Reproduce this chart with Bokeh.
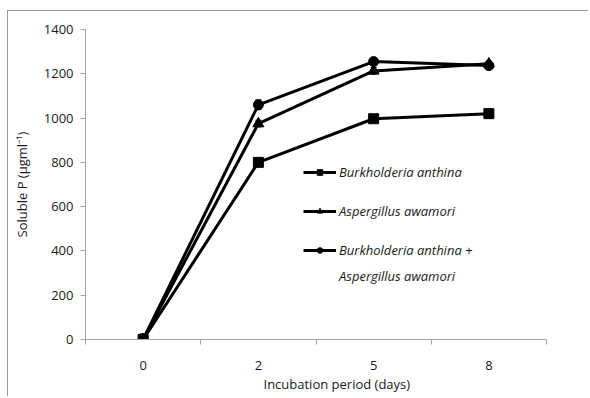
from bokeh.plotting import figure
from bokeh.models import (Range1d, FixedTicker, Legend, LegendItem, Whisker,
                          ColumnDataSource, Title)
from bokeh.embed import file_html
from bokeh.resources import INLINE

days = ["0", "2", "5", "8"]
burk = [0, 800, 997, 1020]
burk_err = [25, 15, 12, 15]
asp = [0, 975, 1213, 1245]
asp_err = [20, 15, 15, 12]
combo = [0, 1060, 1255, 1237]
combo_err = [25, 22, 12, 12]
y_ticks = [0, 200, 400, 600, 800, 1000, 1200, 1400]
names = ["Burkholderia anthina", "Aspergillus awamori",
         "Burkholderia anthina +", "Aspergillus awamori"]

xpos = [i + 0.5 for i in range(len(days))]

FONT = "Open Sans"
AXIS_GRAY = "#a6a6a6"
TXT = "#1a1a1a"

p = figure(width=581, height=386, output_backend="svg", toolbar_location=None,
           x_range=Range1d(0, len(days)), y_range=Range1d(0, 1400),
           min_border_left=77, min_border_right=43, min_border_top=18,
           min_border_bottom=58)
p.styles = {"border-left": "1px solid #9a9a9a", "border-top": "1px solid #9a9a9a",
            "margin-left": "7px", "margin-top": "10px"}
p.outline_line_color = None
p.grid.visible = False

# x axis: labels at category centres, tick marks at category boundaries
p.xaxis.ticker = FixedTicker(ticks=xpos, minor_ticks=list(range(len(days) + 1)))
p.xaxis.major_label_overrides = {x: d for x, d in zip(xpos, days)}
p.xaxis.major_tick_out = 0
p.xaxis.major_tick_in = 0
p.xaxis.minor_tick_out = 5
p.xaxis.minor_tick_in = 0
p.xaxis.major_label_standoff = 16

p.yaxis.ticker = FixedTicker(ticks=y_ticks, minor_ticks=[])
p.yaxis.major_tick_out = 5
p.yaxis.major_tick_in = 0
p.yaxis.major_label_standoff = 7
p.yaxis.axis_label = "Soluble P (µgml⁻¹)"
p.yaxis.axis_label_standoff = 10

for ax in (p.xaxis, p.yaxis):
    ax.axis_line_color = AXIS_GRAY
    ax.major_tick_line_color = AXIS_GRAY
    ax.minor_tick_line_color = AXIS_GRAY
    ax.major_label_text_font = FONT
    ax.major_label_text_font_size = "13px"
    ax.major_label_text_color = TXT
    ax.axis_label_text_font = FONT
    ax.axis_label_text_font_size = "13px"
    ax.axis_label_text_font_style = "normal"
    ax.axis_label_text_color = TXT

xtitle = Title(text="Incubation period (days)", align="left", offset=178,
               standoff=0, text_font=FONT, text_font_size="13px",
               text_font_style="normal", text_color=TXT)
p.add_layout(xtitle, "below")

series = [
    (burk, burk_err, "square", 10),
    (asp, asp_err, "triangle", 11),
    (combo, combo_err, "circle", 10),
]

items = []
for (vals, errs, marker, size), name in zip(series, names):
    src = ColumnDataSource(dict(x=xpos, y=vals,
                                lo=[v - e for v, e in zip(vals, errs)],
                                hi=[v + e for v, e in zip(vals, errs)]))
    w = Whisker(base="x", lower="lo", upper="hi", source=src,
                line_color="black", line_width=1)
    w.upper_head.size = 6
    w.lower_head.size = 6
    w.upper_head.line_color = "black"
    w.lower_head.line_color = "black"
    p.add_layout(w)
    lr = p.line("x", "y", source=src, line_color="black", line_width=3)
    sr = p.scatter("x", "y", source=src, marker=marker, size=size,
                   fill_color="black", line_color="black")
    items.append(LegendItem(label=name, renderers=[lr, sr]))

# continuation line of the third legend entry (no glyph)
blank = p.line(x=[], y=[], line_alpha=0)
cont = LegendItem(label=names[3], renderers=[blank])


def style_legend(lg):
    lg.border_line_color = None
    lg.background_fill_alpha = 0
    lg.inactive_fill_alpha = 0
    lg.padding = 0
    lg.margin = 0
    lg.spacing = 19
    lg.glyph_width = 33
    lg.glyph_height = 14
    lg.label_height = 20
    lg.label_standoff = 3
    lg.label_text_font = FONT
    lg.label_text_font_size = "13px"
    lg.label_text_font_style = "italic"
    lg.label_text_color = TXT


legend = Legend(items=items, location=(218, 79))
style_legend(legend)
p.add_layout(legend)

legend2 = Legend(items=[cont], location=(218, 53))
style_legend(legend2)
p.add_layout(legend2)

open("out.html", "w").write(file_html(p, INLINE))
